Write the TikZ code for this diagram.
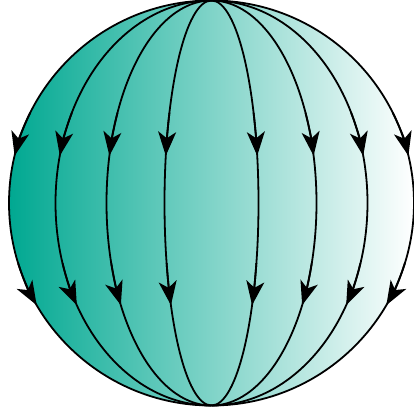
\documentclass[tikz,border=0pt]{standalone}
\usetikzlibrary{arrows.meta,calc}
\definecolor{tealzero}{RGB}{0,168,145}
\begin{document}
\begin{tikzpicture}[x=1pt,y=1pt,
  meridian/.style={line width=1.8pt, black},
  fieldtip/.style={line width=1.8pt, black, -{Stealth[length=24pt,width=18pt,inset=6.5pt]}}]
\useasboundingbox (0,0) rectangle (413,415);
\def\R{202.5}
\coordinate (C) at (211.5,212);
\coordinate (N) at (211.5,414.5);
\coordinate (S) at (211.5,9.5);
\shade[left color=tealzero, right color=white] (C) circle[radius=\R];
\foreach \a in {47,105,156,202.5} {
  \draw[meridian] (N) arc[start angle=90,end angle=270,x radius=\a,y radius=\R];
  \draw[meridian] (N) arc[start angle=90,end angle=-90,x radius=\a,y radius=\R];
  % left side arrows
  \draw[fieldtip] ($(C)+({\a*cos(153.5)},{\R*sin(153.5)})$) arc[start angle=153.5,end angle=166.5,x radius=\a,y radius=\R];
  \draw[fieldtip] ($(C)+({\a*cos(197.3)},{\R*sin(197.3)})$) arc[start angle=197.3,end angle=210.3,x radius=\a,y radius=\R];
  % right side arrows
  \draw[fieldtip] ($(C)+({\a*cos(26.5)},{\R*sin(26.5)})$) arc[start angle=26.5,end angle=13.5,x radius=\a,y radius=\R];
  \draw[fieldtip] ($(C)+({\a*cos(-17.3)},{\R*sin(-17.3)})$) arc[start angle=-17.3,end angle=-30.3,x radius=\a,y radius=\R];
}
\end{tikzpicture}
\end{document}
